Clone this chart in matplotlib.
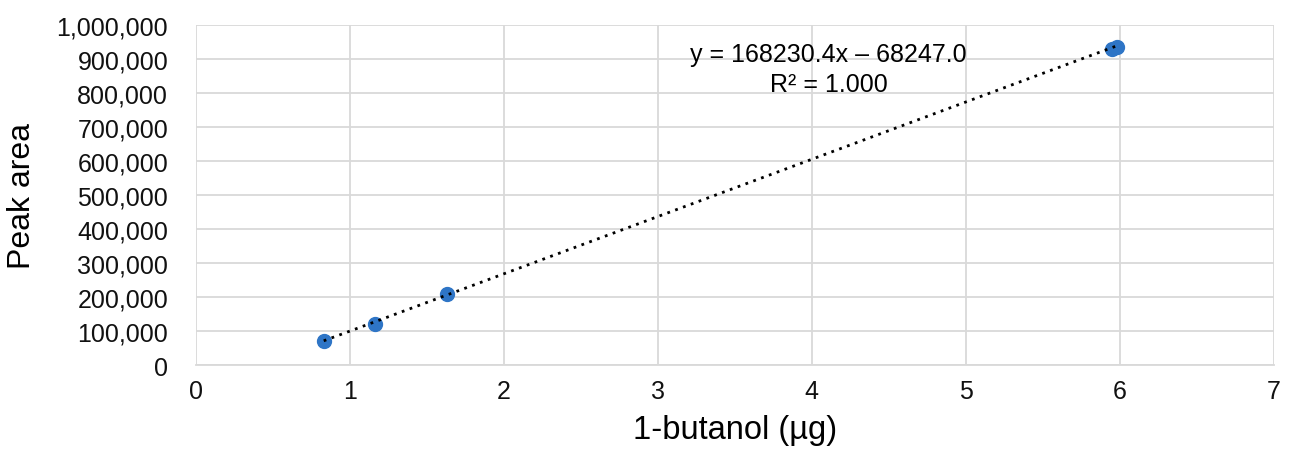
import numpy as np
import matplotlib
matplotlib.use("Agg")
import matplotlib.pyplot as plt
from matplotlib.ticker import FuncFormatter

# calibration points
butanol_ug = [0.83, 1.16, 1.63, 5.95, 5.98]
peak_area = [71000, 122000, 208000, 930000, 935000]

slope = 168230.4
intercept = -68247.0
eq_label = "y = 168230.4x – 68247.0\nR² = 1.000"

plt.rcParams["font.family"] = ["Liberation Sans", "DejaVu Sans"]

fig, ax = plt.subplots(figsize=(12.89, 4.52), dpi=100)
fig.subplots_adjust(left=0.152, right=0.988, top=0.943, bottom=0.19)

grid_c = "#d9d9d9"
ax.set_xlim(0, 7)
ax.set_ylim(0, 1000000)
ax.set_xticks(range(0, 8))
ax.set_yticks(np.arange(0, 1000001, 100000))
ax.yaxis.set_major_formatter(FuncFormatter(lambda v, p: f"{int(v):,}"))
ax.grid(True, color=grid_c, linewidth=1.3)
ax.set_axisbelow(True)
for side in ["top", "right", "left"]:
    ax.spines[side].set_visible(False)
ax.spines["bottom"].set_color(grid_c)
ax.spines["bottom"].set_linewidth(1.3)
ax.tick_params(axis="y", length=0, labelsize=18, colors="#111111", pad=20)
ax.tick_params(axis="x", length=0, labelsize=18, colors="#111111", pad=10)

xs = np.array([min(butanol_ug), max(butanol_ug)])
ax.plot(xs, slope * xs + intercept, color="black", linestyle=(0, (1, 2)), linewidth=2, zorder=3)
ax.scatter(butanol_ug, peak_area, s=100, color="#2e75c6", zorder=2)

ax.text(4.11, 948000, eq_label, ha="center", va="top", fontsize=18, linespacing=1.3)

ax.set_xlabel("1-butanol (µg)", fontsize=23.5, labelpad=8)
ax.set_ylabel("Peak area", fontsize=23, labelpad=14)

fig.savefig("out.png", dpi=100)
